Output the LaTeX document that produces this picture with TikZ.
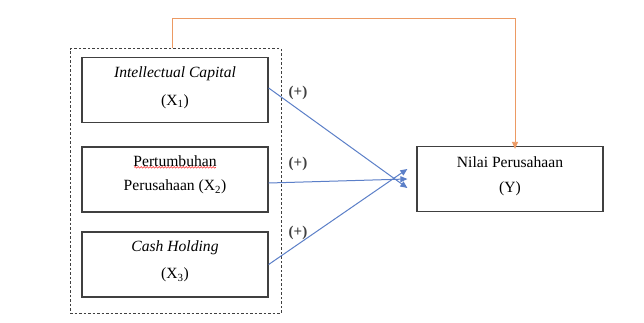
\documentclass[tikz,border=0pt]{standalone}
\usepackage{fontspec}
\setmainfont{Liberation Serif}
\usetikzlibrary{arrows.meta,decorations.pathmorphing}
\definecolor{boxline}{HTML}{404040}
\definecolor{arrblue}{HTML}{5B7FC8}
\definecolor{arrorange}{HTML}{EC9A63}
\tikzset{
  x=1pt,y=-1pt,
  varbox/.style={draw=boxline,line width=1.3pt,minimum width=186pt,minimum height=65pt,inner sep=0pt},
  grpbox/.style={draw=boxline,line width=1pt,dash pattern=on 2.5pt off 2pt,minimum width=211pt,minimum height=264pt,inner sep=0pt},
  lbl/.style={font=\fontsize{15.6}{19}\selectfont,inner sep=0pt},
  plus/.style={font=\fontsize{15}{17}\selectfont\bfseries,inner sep=0pt,text=boxline},
  bluearr/.style={draw=arrblue,line width=1pt,-{Triangle[length=7pt,width=6pt]}},
  orangearr/.style={draw=arrorange,line width=0.9pt,-{Triangle[length=7pt,width=6pt]}},
}
\begin{document}
\begin{tikzpicture}
\useasboundingbox (0,0) rectangle (644,323);
\fill[white] (0,0) rectangle (644,323);
% group box
\node[grpbox] (grp) at (175.5,181) {};
% variable boxes
\node[varbox] (x1) at (175,90) {};
\node[varbox] (x2) at (175,179.5) {};
\node[varbox] (x3) at (175,264.5) {};
\node[varbox] (y) at (510,179) {};
% texts
\node[lbl] (t1a) at (175,74) {\textit{Intellectual Capital}};
\node[lbl] (t1b) at (175,102) {(X\textsubscript{1})};
\node[lbl] (t2a) at (175,161) {Pertumbuhan};
\node[lbl] (t2b) at (175,187) {Perusahaan (X\textsubscript{2})};
\node[lbl] (t3a) at (175,248) {\textit{Cash Holding}};
\node[lbl] (t3b) at (175,275) {(X\textsubscript{3})};
\node[lbl] (tya) at (510,162) {Nilai Perusahaan};
\node[lbl] (tyb) at (510,189) {(Y)};
% spell-check underline
\draw[red!80,line width=0.6pt,decorate,decoration={snake,amplitude=0.8pt,segment length=3pt}]
  ([xshift=1pt,yshift=-1pt]t2a.base west) -- ([xshift=-1pt,yshift=-1pt]t2a.base east);
% plus labels
\node[plus] (p1) at (298,93) {(+)};
\node[plus] (p2) at (298,164) {(+)};
\node[plus] (p3) at (298,233) {(+)};
% blue arrows
\coordinate (e1) at ([xshift=-9pt,yshift=-9pt]y.west);
\coordinate (e2) at ([xshift=-9pt]y.west);
\coordinate (e3) at ([xshift=-9pt,yshift=10pt]y.west);
\draw[bluearr] ([yshift=2pt]x1.east) -- (e1);
\draw[bluearr] ([yshift=-3.5pt]x2.east) -- (e2);
\draw[bluearr] (x3.east) -- (e3);
% orange arrow
\coordinate (o1) at (grp.north -| 172,0);
\coordinate (o2) at ([yshift=-3pt]y.north -| 515,0);
\draw[orangearr] (o1) -- (172,18) -- (515,18) -- (o2);
\end{tikzpicture}
\end{document}
